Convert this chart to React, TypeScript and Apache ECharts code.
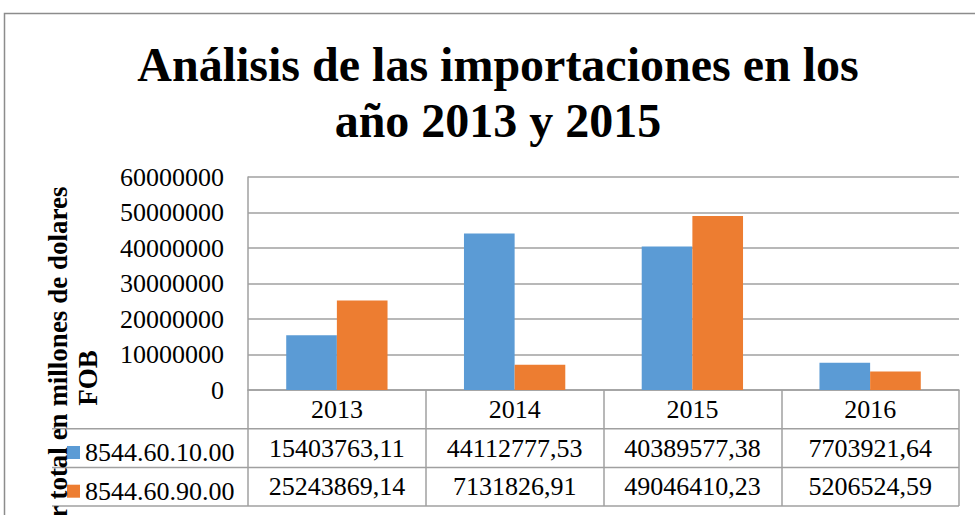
import React, { useEffect, useRef } from "react";
import * as echarts from "echarts";

const years = ["2013", "2014", "2015", "2016"];
const seriesNames = ["8544.60.10.00", "8544.60.90.00"];
const values1 = [15403763.11, 44112777.53, 40389577.38, 7703921.64];
const values2 = [25243869.14, 7131826.91, 49046410.23, 5206524.59];
const yTicks = { min: 0, max: 60000000, interval: 10000000 };
const titleText = "Análisis de las importaciones en los\naño 2013 y 2015";
const yTitle = "Valor total en millones de dolares\nFOB";
const colors = ["#5B9BD5", "#ED7D31"];

const FONT = "Liberation Serif";
const fmt = (v: number) => v.toFixed(2).replace(".", ",");

export default function App() {
  const ref = useRef<HTMLDivElement>(null);
  useEffect(() => {
    document.body.style.margin = "0";
    if (!ref.current) return;
    const chart = echarts.init(ref.current, null, { renderer: "svg" });
    const gridLeft = 248;
    const gridRight = 959;
    const zeroY = 390;
    const rowH = 38.7;
    const gray = "#a0a0a0";
    const tableXAxis = (data: string[], offset: number, showLine: boolean) => ({
      type: "category",
      data,
      position: "bottom",
      offset,
      axisLine: { show: showLine, lineStyle: { color: gray, width: 1.5 } },
      axisTick: showLine
        ? { show: true, length: rowH * 3, inside: false, lineStyle: { color: gray, width: 1.5 } }
        : { show: false },
      axisLabel: {
        show: true,
        margin: rowH / 2,
        verticalAlign: "middle",
        fontFamily: FONT,
        fontSize: 26,
        color: "#000",
        interval: 0,
      },
      splitLine: { show: false },
    });
    chart.setOption({
      animation: false,
      backgroundColor: "#fff",
      textStyle: { fontFamily: FONT },
      title: {
        text: titleText,
        left: 498,
        top: 36,
        padding: 0,
        textAlign: "center",
        textStyle: {
          fontFamily: FONT,
          fontSize: 48,
          fontWeight: "bold",
          lineHeight: 56,
          color: "#000",
        },
      },
      legend: {
        orient: "vertical",
        left: 62,
        top: 447.5 - 13,
        itemWidth: 13,
        itemHeight: 13,
        itemGap: rowH - 26,
        icon: "rect",
        selectedMode: false,
        data: seriesNames,
        textStyle: { fontFamily: FONT, fontSize: 26, lineHeight: 26, color: "#000" },
      },
      grid: { left: gridLeft, right: 975 - gridRight, top: 177, bottom: 515 - zeroY, containLabel: false },
      xAxis: [
        tableXAxis(years, 0, true),
        tableXAxis(values1.map(fmt), rowH, false),
        tableXAxis(values2.map(fmt), rowH * 2, false),
      ],
      yAxis: {
        type: "value",
        min: yTicks.min,
        max: yTicks.max,
        interval: yTicks.interval,
        axisLine: { show: true, lineStyle: { color: gray, width: 1.5 } },
        axisTick: { show: false },
        axisLabel: {
          fontFamily: FONT,
          fontSize: 26,
          color: "#000",
          margin: 24,
          padding: [9, 0, 0, 0],
          formatter: (v: number) => String(v),
        },
        splitLine: { show: true, lineStyle: { color: gray, width: 1.5 } },
      },
      series: [
        {
          name: seriesNames[0],
          type: "bar",
          data: values1,
          itemStyle: { color: colors[0] },
          barGap: "0%",
          barCategoryGap: "43%",
        },
        {
          name: seriesNames[1],
          type: "bar",
          data: values2,
          itemStyle: { color: colors[1] },
          barGap: "0%",
          barCategoryGap: "43%",
        },
      ],
      graphic: [
        {
          type: "rect",
          silent: true,
          shape: { x: 4.5, y: 13.5, width: 1100, height: 1100 },
          style: { fill: "none", stroke: "#8c8c8c", lineWidth: 1.5 },
        },
        ...[1, 2, 3].map((i) => ({
          type: "line",
          silent: true,
          shape: { x1: 52, y1: zeroY + rowH * i, x2: gridRight, y2: zeroY + rowH * i },
          style: { stroke: gray, lineWidth: 1.5 },
        })),
        {
          type: "text",
          silent: true,
          x: 73,
          y: 378,
          rotation: Math.PI / 2,
          z: 100,
          style: {
            text: yTitle,
            font: `bold 27px ${FONT}`,
            fill: "#000",
            textAlign: "center",
            textVerticalAlign: "middle",
            lineHeight: 30,
          },
        },
      ],
    });
    return () => chart.dispose();
  }, []);
  return <div ref={ref} style={{ width: 975, height: 515 }} />;
}
